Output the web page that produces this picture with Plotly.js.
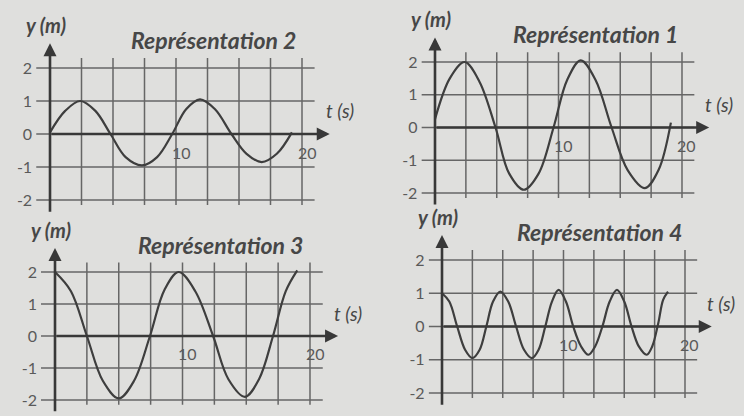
<!DOCTYPE html>
<html>
<head>
<meta charset="utf-8">
<script src="https://cdn.plot.ly/plotly-3.0.1.min.js"></script>
<style>
  html, body { margin: 0; padding: 0; background: #dfdfdd; }
  #graph { width: 744px; height: 416px; }
</style>
</head>
<body>
<div id="graph"></div>
<script>
// values (t in s, y in m)
var t1 = [0, 1.2, 2.4, 3.6, 4.9, 6.0, 7.2, 8.4, 9.6, 10.7, 11.8, 13.0, 14.3, 15.6, 17.0, 18.1, 19.1];
var y1 = [0.25, 1.5, 2.0, 1.4, 0, -1.4, -1.9, -1.4, 0, 1.45, 2.05, 1.45, 0, -1.3, -1.85, -1.3, 0.15];

var t2 = [0, 1.2, 2.4, 3.6, 4.8, 6.0, 7.3, 8.5, 9.7, 10.8, 11.9, 13.1, 14.4, 15.6, 16.8, 18.0, 19.2];
var y2 = [0.05, 0.7, 1.0, 0.7, 0, -0.7, -0.95, -0.7, 0, 0.75, 1.05, 0.75, 0, -0.6, -0.85, -0.6, 0.05];

var t3 = [0, 1.25, 2.5, 3.75, 5.0, 6.2, 7.45, 8.6, 9.7, 11.0, 12.4, 13.6, 14.9, 16.0, 17.1, 18.1, 19.0];
var y3 = [2.0, 1.4, 0, -1.4, -1.95, -1.4, 0, 1.45, 2.0, 1.4, 0, -1.35, -1.9, -1.35, 0, 1.4, 2.05];

var t4 = [0, 0.6, 1.25, 1.9, 2.5, 3.1, 3.65, 4.2, 4.8, 5.45, 6.1, 6.75, 7.4, 7.95, 8.5, 9.05, 9.6,
          10.2, 10.8, 11.45, 12.05, 12.6, 13.2, 13.8, 14.4, 15.0, 15.6, 16.2, 16.85, 17.3, 17.8, 18.2, 18.6];
var y4 = [1.0, 0.75, 0, -0.7, -0.95, -0.7, 0, 0.75, 1.05, 0.75, 0, -0.7, -0.95, -0.7, 0, 0.75, 1.1,
          0.75, 0, -0.6, -0.85, -0.6, 0, 0.75, 1.1, 0.75, 0, -0.6, -0.85, -0.6, 0.1, 0.8, 1.05];

var yTicks = [-2, -1, 0, 1, 2];
var yTickText = ["-2", "-1", "0", "1", "2"];
var tGrid = [2.5, 5, 7.5, 10, 12.5, 15, 17.5, 20];
var tLabels = [10, 20];

var W = 744, H = 416;
var ink = "#3e3e3e";
var gridCol = "#666666";
var textCol = "#4c4c4c";

// where each panel sits on the page (pixel of t=0, t=20, y=2, y=-2)
var panels = [
  {title: "Représentation 2", t: t2, y: y2, x0: 50, x20: 302, yTop: 68, yBot: 200},
  {title: "Représentation 1", t: t1, y: y1, x0: 435, x20: 682, yTop: 62, yBot: 193},
  {title: "Représentation 3", t: t3, y: y3, x0: 55, x20: 310, yTop: 272, yBot: 400},
  {title: "Représentation 4", t: t4, y: y4, x0: 442, x20: 685, yTop: 260, yBot: 393}
];

var traces = [];
var shapes = [];
var annotations = [];
var layout = {
  width: W, height: H,
  margin: {l: 0, r: 0, t: 0, b: 0},
  paper_bgcolor: "#dfdfdd",
  plot_bgcolor: "rgba(0,0,0,0)",
  showlegend: false,
  font: {family: "Lato, 'DejaVu Sans', sans-serif", color: textCol}
};

panels.forEach(function(p, i) {
  var n = i === 0 ? "" : String(i + 1);
  var xa = "x" + n, ya = "y" + n;
  var sx = (p.x20 - p.x0) / 20;
  var sy = (p.yBot - p.yTop) / 4;
  var xmin = -1.1, xmax = Math.min(26, (W - p.x0) / sx - 0.05);
  var ymin = -2.5, ymax = 3.6;
  var pxY = function(v) { return p.yTop + (2 - v) * sy; };

  layout["xaxis" + n] = {
    domain: [(p.x0 + xmin * sx) / W, (p.x0 + xmax * sx) / W],
    range: [xmin, xmax], anchor: ya,
    showgrid: false, zeroline: false, showline: false, showticklabels: false, fixedrange: true
  };
  layout["yaxis" + n] = {
    domain: [1 - pxY(ymin) / H, 1 - pxY(ymax) / H],
    range: [ymin, ymax], anchor: xa,
    showgrid: false, zeroline: false, showline: false, ticks: "",
    tickvals: yTicks, ticktext: yTickText, ticklabelstandoff: 3,
    tickfont: {size: 16, color: "#5a5a5a"}, fixedrange: true
  };

  traces.push({
    type: "scatter", mode: "lines", x: p.t, y: p.y, xaxis: xa, yaxis: ya,
    line: {color: ink, width: 2.2, shape: "spline", smoothing: 1}, hoverinfo: "skip"
  });

  // grid
  yTicks.forEach(function(v) {
    shapes.push({type: "line", xref: xa, yref: ya, x0: -1.1, x1: 21, y0: v, y1: v,
      line: {color: gridCol, width: 1.5}, layer: "below"});
  });
  tGrid.forEach(function(v) {
    shapes.push({type: "line", xref: xa, yref: ya, x0: v, x1: v, y0: -2.15, y1: 2.3,
      line: {color: gridCol, width: 1.5}, layer: "below"});
  });

  // axes with arrows
  annotations.push({xref: xa, yref: ya, axref: xa, ayref: ya, x: 22.2, y: 0, ax: 0, ay: 0,
    text: "", showarrow: true, arrowhead: 2, arrowsize: 1, arrowwidth: 2.6, arrowcolor: "#383838", standoff: 0});
  annotations.push({xref: xa, yref: ya, axref: xa, ayref: ya, x: 0, y: 2.75, ax: 0, ay: -2.4,
    text: "", showarrow: true, arrowhead: 2, arrowsize: 1, arrowwidth: 2.6, arrowcolor: "#383838", standoff: 0});

  tLabels.forEach(function(v) {
    annotations.push({xref: xa, yref: ya, x: v + 0.4, y: -0.55, text: String(v), showarrow: false,
      font: {size: 16, color: "#5a5a5a"}});
  });
  annotations.push({xref: xa, yref: ya, x: 13, y: 2.85, text: p.title, showarrow: false,
    font: {size: 23, color: "#474747", style: "italic", weight: "bold"}});
  annotations.push({xref: xa, yref: ya, x: -0.3, y: 3.3, text: "y (m)", showarrow: false,
    font: {size: 20, color: "#474747", style: "italic", weight: "bold"}});
  annotations.push({xref: xa, yref: ya, x: 23, y: 0.7, text: "t (s)", showarrow: false,
    font: {size: 19, color: "#474747", style: "italic"}});
});

layout.shapes = shapes;
layout.annotations = annotations;

Plotly.newPlot("graph", traces, layout, {staticPlot: true, displayModeBar: false});
</script>
</body>
</html>
